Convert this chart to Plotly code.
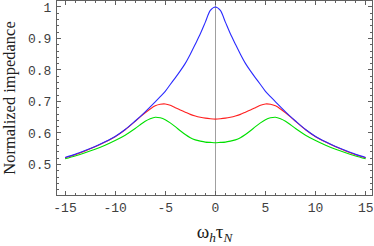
import plotly.graph_objects as go

x_vals = [-15, -14, -13, -12, -11, -10, -9, -8, -7.5, -7, -6.5, -6, -5.5, -5, -4.5, -4,
          -3.5, -3, -2.5, -2, -1.5, -1, -0.5, 0, 0.5, 1, 1.5, 2, 2.5, 3, 3.5, 4, 4.5,
          5, 5.5, 6, 6.5, 7, 7.5, 8, 9, 10, 11, 12, 13, 14, 15]

blue_vals = [0.522, 0.532, 0.544, 0.557, 0.572, 0.589, 0.611, 0.638, 0.652, 0.667, 0.683,
             0.699, 0.715, 0.732, 0.754, 0.775, 0.797, 0.821, 0.850, 0.882, 0.915, 0.952,
             0.989, 1.000, 0.989, 0.952, 0.915, 0.882, 0.850, 0.821, 0.797, 0.775, 0.754,
             0.732, 0.715, 0.699, 0.683, 0.667, 0.652, 0.638, 0.611, 0.589, 0.572, 0.557,
             0.544, 0.532, 0.522]

red_vals = [0.521, 0.531, 0.543, 0.556, 0.571, 0.588, 0.610, 0.637, 0.651, 0.664, 0.676,
            0.686, 0.691, 0.692, 0.688, 0.680, 0.673, 0.666, 0.659, 0.654, 0.650, 0.647,
            0.645, 0.644, 0.645, 0.647, 0.650, 0.654, 0.659, 0.666, 0.673, 0.680, 0.688,
            0.692, 0.691, 0.686, 0.676, 0.664, 0.651, 0.637, 0.610, 0.588, 0.571, 0.556,
            0.543, 0.531, 0.521]

green_vals = [0.518, 0.527, 0.537, 0.548, 0.561, 0.576, 0.593, 0.614, 0.626, 0.637, 0.645,
              0.650, 0.648, 0.642, 0.632, 0.620, 0.607, 0.595, 0.585, 0.578, 0.574, 0.571,
              0.570, 0.569, 0.570, 0.571, 0.574, 0.578, 0.585, 0.595, 0.607, 0.620, 0.632,
              0.642, 0.648, 0.650, 0.645, 0.637, 0.626, 0.614, 0.593, 0.576, 0.561, 0.548,
              0.537, 0.527, 0.518]

x_ticks = [-15, -10, -5, 0, 5, 10, 15]
x_tick_text = ["-15", "-10", "-5", "0", "5", "10", "15"]
y_ticks = [0.5, 0.6, 0.7, 0.8, 0.9, 1.0]
y_tick_text = ["0.5", "0.6", "0.7", "0.8", "0.9", "1"]

fig = go.Figure()
for vals, col in [(green_vals, "#00e000"), (red_vals, "#ff2020"), (blue_vals, "#2a2aff")]:
    fig.add_trace(go.Scatter(x=x_vals, y=vals, mode="lines",
                             line=dict(color=col, width=1.1, shape="spline", smoothing=0.8),
                             showlegend=False, hoverinfo="skip"))

frame = "#606060"
mono = dict(family="Liberation Mono", size=13, color="#404040")

fig.update_layout(
    width=374, height=246,
    margin=dict(l=57, r=2, t=1, b=51),
    paper_bgcolor="white", plot_bgcolor="white",
    xaxis=dict(range=[-15.8, 15.63], showgrid=False, automargin=False,
               zeroline=True, zerolinecolor="#a0a0a0", zerolinewidth=1.5,
               showline=True, linecolor=frame, linewidth=1, mirror="allticks",
               ticks="inside", ticklen=4, tickcolor=frame, tickwidth=1,
               tickvals=x_ticks, ticktext=x_tick_text, tickfont=mono,
               minor=dict(ticks="inside", ticklen=2, tickcolor=frame, dtick=1, tick0=0,
                          showgrid=False),
               title=dict(text="ω<sub><i>h</i></sub>τ<sub><i>N</i></sub>",
                          font=dict(family="Liberation Serif", size=19, color="#202020"),
                          standoff=10)),
    yaxis=dict(range=[0.403, 1.019], showgrid=False, zeroline=False, automargin=False,
               showline=True, linecolor=frame, linewidth=1, mirror="allticks",
               ticks="inside", ticklen=4, tickcolor=frame, tickwidth=1,
               tickvals=y_ticks, ticktext=y_tick_text, tickfont=mono,
               ticklabelstandoff=2,
               minor=dict(ticks="inside", ticklen=2, tickcolor=frame, dtick=0.02, tick0=0.4,
                          showgrid=False),
               title=dict(text="Normalized impedance",
                          font=dict(family="Liberation Serif", size=16.5, color="#202020"),
                          standoff=8)),
)

fig.write_html("out.html", config={"displayModeBar": False, "staticPlot": True},
               post_script="document.body.style.margin='0';document.body.style.overflow='hidden';")
